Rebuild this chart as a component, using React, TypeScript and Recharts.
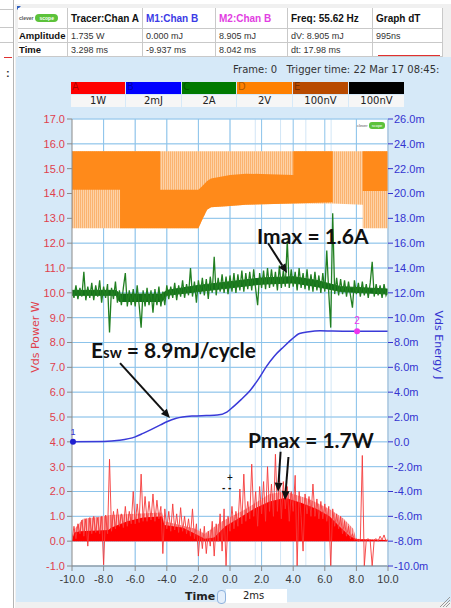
import React from "react";
import {
  ComposedChart,
  Area,
  Line,
  XAxis,
  YAxis,
  CartesianGrid,
  ReferenceDot,
  ReferenceLine,
} from "recharts";

// axes
const timeTicks = [-10, -8, -6, -4, -2, 0, 2, 4, 6, 8, 10];
const powerTicks = [-1, 0, 1, 2, 3, 4, 5, 6, 7, 8, 9, 10, 11, 12, 13, 14, 15, 16, 17];
const energyTicks = [-10, -8, -6, -4, -2, 0, 2, 4, 6, 8, 10, 12, 14, 16, 18, 20, 22, 24, 26];

// channel D (2V) switching signal, envelope of the hatched part (left axis units)
const orangeBandT = [-10, -2.0, -1.75, -1.45, -1.2, 0, 1, 4, 6.5, 8.4, 8.4, 10];
const orangeBandLo = [12.6, 12.6, 12.95, 13.35, 13.45, 13.5, 13.55, 13.6, 13.6, 13.55, 12.6, 12.6];
const orangeBandHi = [15.7, 15.7, 15.7, 15.7, 15.7, 15.7, 15.7, 15.7, 15.7, 15.7, 15.7, 15.7];

// channel D dense (solid) parts
const orangeSolidAT = [-10, -6.96, -6.96, -4.43, -4.43, -2.0, -1.75, -1.45, -1.2, 0, 1, 4, 4, 6.5];
const orangeSolidALo = [14.15, 14.15, 12.6, 12.6, 12.6, 12.6, 12.95, 13.35, 13.45, 13.5, 13.55, 13.6, 13.6, 13.65];
const orangeSolidAHi = [15.7, 15.7, 15.7, 15.7, 14.15, 14.15, 14.3, 14.5, 14.6, 14.75, 14.8, 14.75, 15.7, 15.7];
const orangeSolidBT = [8.4, 10];
const orangeSolidBLo = [14.1, 14.1];
const orangeSolidBHi = [15.7, 15.7];

// channel C (2A) current: dense core band
const greenCoreT = [-10, -7.2, -7.0, -4.3, -4.0, -2, 0, 2, 4, 5.5, 7, 10];
const greenCoreLo = [9.9, 9.9, 9.65, 9.65, 9.9, 10.05, 10.2, 10.35, 10.4, 10.25, 10.05, 9.95];
const greenCoreHi = [10.1, 10.1, 9.95, 9.95, 10.1, 10.3, 10.45, 10.6, 10.65, 10.5, 10.25, 10.15];

// channel C raw trace, sampled every 0.125 ms from -10 ms
const greenValues = [
  10.1, 9.8, 10.3, 9.75, 10.2, 9.85, 10.85, 9.7, 10.25, 9.8,
  10.4, 9.7, 10.3, 9.85, 10.5, 9.6, 10.25, 9.8, 10.35, 8.4,
  10.2, 9.75, 10.45, 9.6, 10.1, 9.5, 10.2, 10.8, 9.45, 10.1,
  9.5, 10.15, 9.45, 10.3, 9.5, 8.6, 10.1, 9.45, 10.2, 9.5,
  10.1, 9.2, 10.15, 9.5, 10.25, 9.45, 10.05, 9.5, 10.3, 9.75,
  10.25, 9.8, 10.4, 9.7, 10.3, 9.85, 10.5, 9.8, 10.35, 9.9,
  11.0, 9.85, 10.45, 9.6, 10.5, 9.95, 10.6, 9.9, 10.55, 9.75,
  10.65, 10.0, 11.45, 9.9, 10.6, 10.05, 10.75, 10.0, 10.65, 9.95,
  10.7, 10.05, 10.8, 10.0, 10.75, 10.1, 10.9, 10.05, 10.8, 10.15,
  10.85, 10.1, 10.95, 10.15, 9.5, 10.8, 10.2, 10.9, 10.15, 11.0,
  10.2, 10.95, 10.25, 10.85, 10.1, 11.1, 10.2, 10.9, 10.25, 12.1,
  10.2, 10.95, 10.25, 10.85, 10.1, 11.0, 10.2, 10.8, 10.15, 10.95,
  10.1, 10.75, 10.05, 10.85, 10.1, 10.7, 10.0, 10.8, 10.05, 11.7,
  10.0, 8.6, 13.2, 9.95, 10.6, 9.9, 10.55, 9.95, 10.5, 9.85,
  10.45, 9.9, 9.4, 10.5, 9.95, 10.4, 9.85, 10.45, 9.9, 10.35,
  9.8, 10.4, 11.25, 9.85, 10.35, 9.9, 10.3, 9.8, 10.35, 9.9,
  10.1,
];

// channel A (1W) power: dense fill, hatched envelope and raw spikes (0.125 ms steps)
const redSolidT = [-10, -9.85, -9.5, -7.7, -7.5, -6.5, -5.5, -4.3, -4.15, -3.0, -2.2, -1.6, -1.0, -0.3, 0.5, 1.5, 2.5, 3.5, 4.5, 5.5, 6.3, 7.0, 7.6, 8.0, 10];
const redSolidV = [0.05, 0.35, 0.4, 0.45, 0.55, 0.8, 0.95, 1.0, 0.65, 0.55, 0.3, 0.1, 0.15, 0.6, 0.9, 1.3, 1.6, 1.75, 1.55, 1.3, 1.0, 0.55, 0.2, 0.08, 0.05];
const redLightT = [-10, -9.9, -9.3, -8.0, -7.6, -6.0, -4.3, -4.15, -2.2, -1.6, -0.5, 1.0, 2.5, 3.5, 5.0, 6.3, 7.2, 7.8, 8.0, 10];
const redLightV = [0.05, 0.45, 0.9, 1.0, 1.05, 1.1, 1.15, 0.8, 0.5, 0.3, 0.8, 1.3, 1.9, 2.0, 1.7, 1.3, 0.9, 0.5, 0.1, 0.05];
const redValues = [
  0.05, 0.6, 0.1, 0.7, 0.3, 0.85, 0.2, 0.9, -0.2, 0.95,
  0.3, 1.0, 0.35, 0.95, 0.3, 1.0, -0.95, 1.05, 0.3, 3.3,
  0.4, 1.2, 0.5, 1.3, 0.6, 1.1, 0.55, 1.4, 0.6, 1.2,
  0.7, 2.0, 0.7, 1.5, 0.75, 2.7, 0.8, 1.8, 0.8, 1.6,
  0.85, 1.9, 0.8, 1.65, 0.9, 1.4, -0.5, 1.3, 0.5, 1.2,
  0.4, 1.5, 0.45, 1.1, 0.35, 1.35, 0.4, 1.0, 0.3, 0.9,
  0.2, 1.3, 0.1, 0.7, -0.6, 0.5, -0.3, 0.6, -0.5, 0.4,
  -0.2, 0.8, -0.6, 0.7, 0.0, 1.1, -0.4, 1.3, -1.0, 1.0,
  0.4, 1.4, 0.5, 1.2, 0.6, 2.1, 0.7, 2.7, 0.8, 1.6,
  0.9, 3.1, 1.0, 2.0, 0.6, 2.2, 1.1, 2.4, 0.8, 3.0,
  1.2, 2.3, 1.0, 3.5, 1.2, 2.6, 0.9, 2.4, 1.3, 2.2,
  0.8, 2.0, 1.2, 2.65, -1.0, 2.0, 1.0, -0.4, 1.9, 1.1,
  1.8, 1.0, 2.3, 1.0, 1.7, 0.9, 1.6, 0.9, 1.5, 0.8,
  1.4, -1.0, 1.3, 0.6, 1.1, 0.5, 1.0, 0.3, 0.8, 0.2,
  0.6, 0.1, 0.3, 0.05, 0.1, 0.0, 0.05, 3.45, -1.0, 0.05,
  0.1, 0.0, -1.0, 0.05, 0.1, 0.0, 0.2, 0.05, 0.25, 0.0,
  0.1,
];

// channel B (2mJ) energy, right axis in mJ
const energyT = [-10, -8, -7, -6, -5.5, -5, -4.4, -4, -3.4, -3, -2.3, -1.5, -0.8, -0.2, 0.2, 0.7, 1.3, 1.8, 2.3, 2.8, 3.4, 3.9, 4.4, 5.0, 5.7, 6.5, 8.042, 10];
const energyV = [0, 0.02, 0.12, 0.4, 0.68, 0.98, 1.36, 1.62, 1.9, 2.0, 2.08, 2.12, 2.16, 2.4, 2.82, 3.4, 4.18, 5.05, 6.06, 6.9, 7.66, 8.25, 8.72, 8.87, 8.94, 8.92, 8.905, 8.9];

// measurement table
const colX = [18, 68, 143, 216, 288, 373, 443];
const rowY = [8, 29, 43, 57];
const headerCells = ["", "Tracer:Chan A", "M1:Chan B", "M2:Chan B", "Freq: 55.62 Hz", "Graph dT"];
const headerColors = ["#000", "#111", "#3b3be6", "#e23ee2", "#111", "#111"];
const amplitudeCells = ["Amplitude", "1.735 W", "0.000 mJ", "8.905 mJ", "dV: 8.905 mJ", "995ns"];
const timeCells = ["Time", "3.298 ms", "-9.937 ms", "8.042 ms", "dt: 17.98 ms", ""];

// channel strip
const channelX = [71, 126, 182, 237, 293, 349, 405];
const channelLetters = ["A", "B", "C", "D", "E", ""];
const channelColors = ["#ff0000", "#0000ff", "#007a00", "#ff8000", "#b84a00", "#000000"];
const channelScales = ["1W", "2mJ", "2A", "2V", "100nV", "100nV"];

// annotation arrows (data coords on left axis)
const arrows = [
  { t1: 2.41, v1: 12.0, t2: 3.61, v2: 10.8 },
  { t1: -6.96, v1: 7.17, t2: -3.8, v2: 4.96 },
  { t1: 3.2, v1: 3.6, t2: 3.04, v2: 1.99 },
  { t1: 3.7, v1: 3.39, t2: 3.48, v2: 1.66 },
];

const zip3 = (t: number[], lo: number[], hi: number[]) => t.map((x, i) => ({ t: x, r: [lo[i], hi[i]] }));
const zip2 = (t: number[], v: number[]) => t.map((x, i) => ({ t: x, v: v[i] }));
const sampled = (v: number[]) => v.map((y, i) => ({ t: -10 + i * 0.125, v: y }));

const orangeBand = zip3(orangeBandT, orangeBandLo, orangeBandHi);
const orangeSolidA = zip3(orangeSolidAT, orangeSolidALo, orangeSolidAHi);
const orangeSolidB = zip3(orangeSolidBT, orangeSolidBLo, orangeSolidBHi);
const greenCore = zip3(greenCoreT, greenCoreLo, greenCoreHi);
const greenTrace = sampled(greenValues);
const redTrace = sampled(redValues);
const redSolid = zip2(redSolidT, redSolidV);
const redLight = zip2(redLightT, redLightV);
const energy = zip2(energyT, energyV);

const hMinor = Array.from({ length: 91 }, (_, i) => -1 + i * 0.2);
const vMinor = Array.from({ length: 51 }, (_, i) => -10 + i * 0.4);

function ArrowShape(props: any) {
  const { x1, y1, x2, y2 } = props;
  const a = Math.atan2(y2 - y1, x2 - x1);
  const L = 9;
  const W = 4;
  const bx = x2 - L * Math.cos(a);
  const by = y2 - L * Math.sin(a);
  const pts = [
    [x2, y2],
    [bx + W * Math.sin(a), by - W * Math.cos(a)],
    [bx - W * Math.sin(a), by + W * Math.cos(a)],
  ];
  return (
    <g>
      <line x1={x1} y1={y1} x2={bx} y2={by} stroke="#111" strokeWidth={2} />
      <polygon points={pts.map((p) => p.join(",")).join(" ")} fill="#111" />
    </g>
  );
}

const ui = "'DejaVu Sans', Tahoma, sans-serif";
const big = "Lato, 'Open Sans', sans-serif";

function Table() {
  const rows = [headerCells, amplitudeCells, timeCells];
  return (
    <div style={{ position: "absolute", left: colX[0], top: rowY[0], width: colX[6] - colX[0], height: rowY[3] - rowY[0], background: "#fff" }}>
      {rows.map((row, r) =>
        row.map((txt, c) => (
          <div
            key={`${r}-${c}`}
            style={{
              position: "absolute",
              left: colX[c] - colX[0],
              top: rowY[r] - rowY[0],
              width: colX[c + 1] - colX[c],
              height: rowY[r + 1] - rowY[r],
              boxSizing: "border-box",
              borderRight: "1px solid #c9c9c9",
              borderBottom: "1px solid #c9c9c9",
              paddingLeft: c === 0 ? 1 : 3,
              display: "flex",
              alignItems: "center",
              fontSize: r === 0 ? 10 : c === 0 ? 9.5 : 9,
              fontWeight: r === 0 || c === 0 ? "bold" : "normal",
              color: r === 0 ? headerColors[c] : c === 0 ? "#111" : "#333",
              whiteSpace: "nowrap",
              overflow: "hidden",
            }}
          >
            {r === 0 && c === 0 ? (
              <span style={{ display: "flex", alignItems: "center", gap: 2 }}>
                <span style={{ fontSize: 5, color: "#555" }}>clever</span>
                <span style={{ fontSize: 5, color: "#fff", background: "#5cc23a", borderRadius: 4, padding: "1px 4px" }}>scope</span>
              </span>
            ) : (
              txt
            )}
          </div>
        ))
      )}
      <div style={{ position: "absolute", left: 378 - colX[0], top: 55 - rowY[0], width: 62, height: 1, background: "#e03030" }} />
    </div>
  );
}

export default function App() {
  return (
    <div style={{ position: "relative", width: 451, height: 608, overflow: "hidden", background: "#fff", fontFamily: "'Liberation Sans', Arial, sans-serif" }}>
      <style>{`body{margin:0}`}</style>

      {/* neighbouring window edge */}
      <div style={{ position: "absolute", left: 0, top: 0, width: 13, height: 608, background: "#fff", borderRight: "1px solid #b5b5b5" }}>
        {[9, 27, 42].map((y) => (
          <div key={y} style={{ position: "absolute", left: 0, top: y, width: 13, height: 1, background: "#c8c8c8" }} />
        ))}
        <div style={{ position: "absolute", left: 4, top: 57, width: 8, height: 1, background: "#e03030" }} />
        <div style={{ position: "absolute", left: 6, top: 67, fontSize: 11, fontWeight: "bold", color: "#333" }}>:</div>
      </div>

      {/* main window */}
      <div style={{ position: "absolute", left: 15, top: 4, width: 436, height: 604, background: "#f0f0f0" }} />
      <div style={{ position: "absolute", left: 16, top: 57, width: 435, height: 545, background: "#d6e9f8" }} />
      <div style={{ position: "absolute", left: 17, top: 6, width: 0, height: 0, borderTop: "4px solid #3060c0", borderRight: "4px solid transparent" }} />
      <Table />

      <div style={{ position: "absolute", left: 233, top: 64, fontFamily: ui, fontSize: 10, color: "#333", whiteSpace: "nowrap" }}>
        Frame: 0&nbsp;&nbsp;&nbsp;Trigger time: 22 Mar 17 08:45:
      </div>

      {channelColors.map((col, i) => (
        <React.Fragment key={i}>
          <div style={{ position: "absolute", left: channelX[i], top: 82, width: channelX[i + 1] - channelX[i] - 1, height: 12, background: col }}>
            <span style={{ position: "absolute", left: 1, top: -1, fontSize: 10, fontFamily: ui, color: "rgba(0,0,0,0.35)" }}>{channelLetters[i]}</span>
          </div>
          <div
            style={{
              position: "absolute",
              left: channelX[i],
              top: 95,
              width: channelX[i + 1] - channelX[i] - 1,
              height: 12,
              background: "#f6f6f6",
              fontFamily: ui,
              fontSize: 10,
              color: "#222",
              textAlign: "center",
              lineHeight: "12px",
            }}
          >
            {channelScales[i]}
          </div>
        </React.Fragment>
      ))}

      <div style={{ position: "absolute", left: 0, top: 0 }}>
        <ComposedChart width={451} height={608} margin={{ top: 119, right: 13, bottom: 12, left: 22 }}>
          <defs>
            <pattern id="hatchOrange" width="2" height="6" patternUnits="userSpaceOnUse">
              <rect width="2" height="6" fill="#fdd2a6" />
              <rect width="0.9" height="6" fill="#fbb06a" />
            </pattern>
            <pattern id="hatchRed" width="2" height="6" patternUnits="userSpaceOnUse">
              <rect width="2" height="6" fill="#fbbcbc" />
              <rect width="0.9" height="6" fill="#f67070" />
            </pattern>
          </defs>
          <XAxis
            type="number"
            dataKey="t"
            domain={[-10, 10]}
            ticks={timeTicks}
            allowDataOverflow
            height={30}
            tickSize={5}
            tickMargin={4}
            stroke="#8a8a8a"
            tick={{ fill: "#3a3a3a", fontSize: 11, fontFamily: "'Liberation Sans', Arial" }}
            tickFormatter={(v: number) => v.toFixed(1)}
          />
          <YAxis
            yAxisId="left"
            type="number"
            domain={[-1, 17]}
            ticks={powerTicks}
            allowDataOverflow
            width={50}
            tickSize={5}
            tickMargin={2}
            stroke="#8a8a8a"
            tick={{ fill: "#e0404c", fontSize: 11, fontFamily: "'Liberation Sans', Arial" }}
            tickFormatter={(v: number) => v.toFixed(1)}
          />
          <YAxis
            yAxisId="right"
            orientation="right"
            type="number"
            domain={[-10, 26]}
            ticks={energyTicks}
            allowDataOverflow
            width={50}
            tickSize={5}
            tickMargin={1}
            axisLine={{ stroke: "#b8c8d8" }}
            tickLine={{ stroke: "#3434d0" }}
            tick={{ fill: "#3434d0", fontSize: 11, fontFamily: "'Liberation Sans', Arial" }}
            tickFormatter={(v: number) => (v === 0 ? "0.0" : `${v.toFixed(1)}m`)}
          />
          <CartesianGrid yAxisId="left" horizontalValues={hMinor} verticalValues={vMinor} stroke="#d2e6f6" fill="#ffffff" />
          <CartesianGrid yAxisId="left" horizontalValues={powerTicks} verticalValues={timeTicks} stroke="#8cc3ea" />

          <Area yAxisId="left" data={orangeBand} dataKey="r" type="linear" stroke="none" fill="url(#hatchOrange)" fillOpacity={1} isAnimationActive={false} />
          <Area yAxisId="left" data={orangeSolidA} dataKey="r" type="linear" stroke="none" fill="#ff8a1a" fillOpacity={1} isAnimationActive={false} />
          <Area yAxisId="left" data={orangeSolidB} dataKey="r" type="linear" stroke="none" fill="#ff8a1a" fillOpacity={1} isAnimationActive={false} />

          <Area yAxisId="left" data={greenCore} dataKey="r" type="linear" stroke="#13701a" strokeWidth={1} fill="#13701a" fillOpacity={1} isAnimationActive={false} />
          <Line yAxisId="left" data={greenTrace} dataKey="v" type="linear" stroke="#217f21" strokeWidth={1.3} dot={false} isAnimationActive={false} />

          <Area yAxisId="left" data={redLight} dataKey="v" baseValue={0} type="linear" stroke="none" fill="url(#hatchRed)" fillOpacity={1} isAnimationActive={false} />
          <Line yAxisId="left" data={redTrace} dataKey="v" type="linear" stroke="#f53a3a" strokeWidth={0.9} dot={false} isAnimationActive={false} />
          <Area yAxisId="left" data={redSolid} dataKey="v" baseValue={0} type="linear" stroke="none" fill="#ff0000" fillOpacity={1} isAnimationActive={false} />

          <Line yAxisId="right" data={energy} dataKey="v" type="monotone" stroke="#3a3ad8" strokeWidth={1.5} dot={false} isAnimationActive={false} />
          <ReferenceDot yAxisId="right" x={-9.937} y={0} r={3} fill="#2020d0" stroke="none" label={{ value: "1", position: "top", fill: "#3434d0", fontSize: 9, offset: 4 }} />
          <ReferenceDot yAxisId="right" x={8.042} y={8.905} r={3} fill="#ee33ee" stroke="none" label={{ value: "2", position: "top", fill: "#ee33ee", fontSize: 10, offset: 4 }} />

          {arrows.map((a, i) => (
            <ReferenceLine
              key={i}
              yAxisId="left"
              segment={[
                { x: a.t1, y: a.v1 },
                { x: a.t2, y: a.v2 },
              ]}
              shape={ArrowShape}
            />
          ))}
        </ComposedChart>
      </div>

      {/* logo in plot */}
      <div style={{ position: "absolute", left: 357, top: 122, display: "flex", alignItems: "center", gap: 1 }}>
        <span style={{ fontSize: 4, color: "#555" }}>clever</span>
        <span style={{ fontSize: 4, color: "#fff", background: "#5cc23a", borderRadius: 3, padding: "1px 3px" }}>scope</span>
      </div>

      {/* axis titles */}
      <div style={{ position: "absolute", left: 35, top: 337, transform: "translate(-50%,-50%) rotate(-90deg)", color: "#e0404c", fontSize: 11, fontFamily: ui, whiteSpace: "nowrap" }}>
        Vds Power W
      </div>
      <div style={{ position: "absolute", left: 438, top: 345, transform: "translate(-50%,-50%) rotate(90deg)", color: "#3434d0", fontSize: 11, fontFamily: ui, whiteSpace: "nowrap" }}>
        Vds Energy J
      </div>

      {/* time base control */}
      <div style={{ position: "absolute", left: 185, top: 590, fontSize: 11, fontWeight: "bold", fontFamily: ui, color: "#222" }}>Time</div>
      <div style={{ position: "absolute", left: 217, top: 590, width: 7, height: 12, borderRadius: 4, border: "1px solid #8fb3de", background: "#e4effb" }} />
      <div style={{ position: "absolute", left: 226, top: 589, width: 61, height: 14, background: "#fff", fontSize: 10, fontFamily: ui, color: "#222", lineHeight: "14px" }}>
        <span style={{ marginLeft: 17 }}>2ms</span>
      </div>
      <svg style={{ position: "absolute", left: 438, top: 594 }} width={13} height={14}>
        <line x1={2} y1={13} x2={12} y2={3} stroke="#999" />
        <line x1={5} y1={13} x2={12} y2={6} stroke="#999" />
        <line x1={8} y1={13} x2={12} y2={9} stroke="#999" />
      </svg>

      {/* annotations */}
      <div style={{ position: "absolute", left: 257, top: 224, fontFamily: big, fontWeight: "bold", fontSize: 21, lineHeight: "24px", color: "#111", whiteSpace: "nowrap" }}>
        Imax = 1.6A
      </div>
      <div style={{ position: "absolute", left: 91, top: 338, fontFamily: big, fontWeight: "bold", fontSize: 21, lineHeight: "24px", color: "#111", whiteSpace: "nowrap" }}>
        E<span style={{ fontSize: 15 }}>sw</span> = 8.9mJ/cycle
      </div>
      <div style={{ position: "absolute", left: 248, top: 428, fontFamily: big, fontWeight: "bold", fontSize: 21, lineHeight: "24px", color: "#111", whiteSpace: "nowrap" }}>
        Pmax = 1.7W
      </div>
      <div style={{ position: "absolute", left: 227, top: 473, fontSize: 10, color: "#111", lineHeight: "10px" }}>+</div>
      <div style={{ position: "absolute", left: 222, top: 483, fontSize: 10, color: "#111", lineHeight: "10px", fontWeight: "bold" }}>- -</div>
    </div>
  );
}
